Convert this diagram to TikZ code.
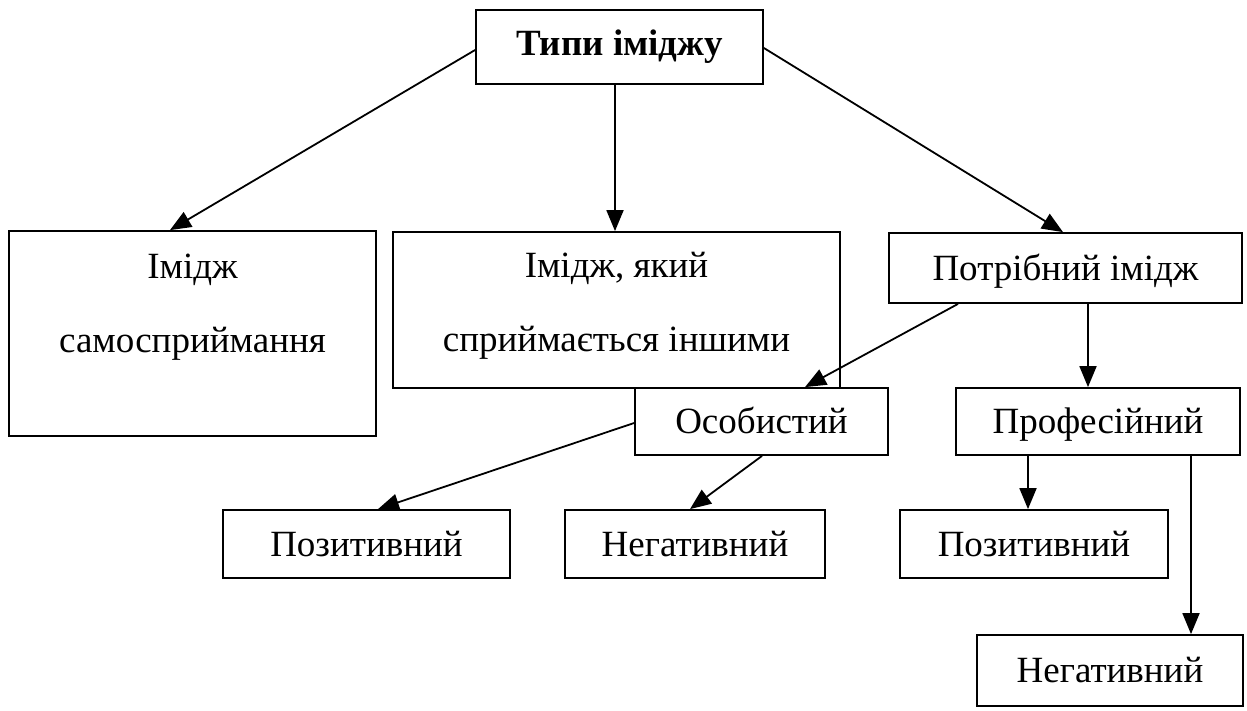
\documentclass[tikz,border=0pt]{standalone}
\usepackage{fontspec}
\setmainfont{Liberation Serif}
\usetikzlibrary{arrows.meta}
\begin{document}
\begin{tikzpicture}[x=1pt,y=1pt,
  box/.style={draw, line width=1.8pt, inner sep=0pt, font=\fontsize{37}{74}\selectfont, text height=24pt, text depth=0pt},
  tallbox/.style={draw, line width=1.8pt, inner sep=0pt, font=\fontsize{37}{74}\selectfont},
  arr/.style={-{Triangle[length=21pt,width=17pt]}, line width=1.8pt}]
\useasboundingbox (0,0) rectangle (1247,-710);
% nodes
\node[box, minimum width=287pt, minimum height=74pt, text height=16pt, font=\fontsize{37}{74}\selectfont\bfseries] (t) at (619.5,-47) {Типи іміджу};
\node[tallbox] (b2) at (192.5,-333.5) {\parbox[c][205pt][t]{367pt}{\centering\rule{0pt}{47pt}Імідж\\самосприймання}};
\node[tallbox] (b3) at (616.5,-310) {\parbox[c][156pt][t]{447pt}{\centering\rule{0pt}{45pt}Імідж, який\\сприймається іншими}};
\node[box, minimum width=353pt, minimum height=70pt] (b4) at (1065.5,-268) {Потрібний імідж};
\node[box, minimum width=253pt, minimum height=67pt, fill=white] (b5) at (761.5,-421.5) {Особистий};
\node[box, minimum width=284pt, minimum height=67pt] (b6) at (1098,-421.5) {Професійний};
\node[box, minimum width=287pt, minimum height=68pt] (b7) at (366.5,-544) {Позитивний};
\node[box, minimum width=260pt, minimum height=68pt] (b8) at (695,-544) {Негативний};
\node[box, minimum width=268pt, minimum height=68pt] (b9) at (1034,-544) {Позитивний};
\node[box, minimum width=266pt, minimum height=71pt] (b10) at (1110,-670.5) {Негативний};
% connectors
\draw[arr] ([yshift=-3pt]t.west) -- ([xshift=-22.5pt]b2.north);
\draw[arr] ([xshift=-4.5pt]t.south) -- ([xshift=-1.5pt]b3.north);
\draw[arr] ([yshift=-1pt]t.east) -- ([xshift=-2.5pt]b4.north);
\draw[arr] ([xshift=-107.5pt]b4.south) -- ([xshift=43.5pt]b5.north);
\draw[arr] ([xshift=22.5pt]b4.south) -- ([xshift=-10pt]b6.north);
\draw[arr] ([yshift=-1.5pt]b5.west) -- ([xshift=11.5pt]b7.north);
\draw[arr] ([xshift=0.5pt]b5.south) -- ([xshift=-5pt]b8.north);
\draw[arr] ([xshift=-70pt]b6.south) -- ([xshift=-6pt]b9.north);
\draw[arr] ([xshift=93pt]b6.south) -- ([xshift=81pt]b10.north);
\end{tikzpicture}
\end{document}
